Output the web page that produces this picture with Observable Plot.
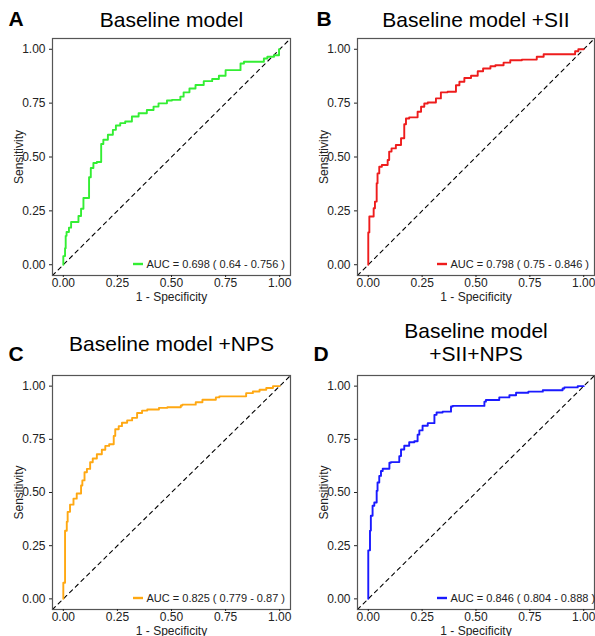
<!DOCTYPE html>
<html><head><meta charset="utf-8">
<script src="https://cdn.jsdelivr.net/npm/d3@7"></script>
<script src="https://cdn.jsdelivr.net/npm/@observablehq/plot@0.6"></script>
<style>
html,body{margin:0;padding:0;background:#fff;overflow:hidden;}
#wrap{position:relative;width:595px;height:636px;background:#fff;}
.panel{position:absolute;}
</style></head><body><div id="wrap"></div>
<script>
// ---- texts ----
const panelLetters = ["A", "B", "C", "D"];
const panelTitles = ["Baseline model", "Baseline model +SII", "Baseline model +NPS", "Baseline model\n+SII+NPS"];
const aucLabels = [
  "AUC = 0.698 ( 0.64 - 0.756 )",
  "AUC = 0.798 ( 0.75 - 0.846 )",
  "AUC = 0.825 ( 0.779 - 0.87 )",
  "AUC = 0.846 ( 0.804 - 0.888 )"
];
const curveColors = ["#33ee33", "#ee1c1c", "#ffa812", "#1a1aff"];
const axisTicks = [0, 0.25, 0.5, 0.75, 1];
const xLabel = "1 - Specificity";
const yLabel = "Sensitivity";
const axisDomain = [-0.05, 1.05];

// ---- ROC curves (1 - specificity, sensitivity) ----
const fprA = [0,0.008,0.011,0.015,0.026,0.036,0.05,0.07,0.082,0.093,0.104,0.119,0.127,0.139,0.155,0.175,0.185,0.206,0.229,0.243,0.263,0.286,0.317,0.348,0.386,0.417,0.44,0.479,0.502,0.541,0.556,0.583,0.611,0.649,0.688,0.719,0.75,0.773,0.819,0.835,0.873,0.927,0.943,0.974,0.997,0.997,1];
const tprA = [0,0.04,0.077,0.134,0.152,0.172,0.198,0.198,0.226,0.26,0.31,0.31,0.406,0.449,0.472,0.477,0.56,0.58,0.603,0.626,0.646,0.657,0.665,0.688,0.703,0.718,0.734,0.749,0.762,0.765,0.78,0.8,0.818,0.834,0.852,0.862,0.877,0.903,0.903,0.934,0.942,0.942,0.957,0.965,0.972,0.995,1];

const fprB = [0,0,0.005,0.008,0.025,0.031,0.039,0.043,0.051,0.063,0.09,0.097,0.108,0.128,0.152,0.167,0.175,0.19,0.229,0.245,0.26,0.276,0.314,0.337,0.368,0.407,0.423,0.446,0.477,0.508,0.533,0.567,0.59,0.628,0.659,0.713,0.782,0.814,0.852,0.96,0.975,1];
const tprB = [0,0.15,0.15,0.224,0.224,0.262,0.293,0.378,0.424,0.455,0.463,0.486,0.525,0.54,0.556,0.587,0.652,0.679,0.684,0.71,0.733,0.748,0.753,0.772,0.8,0.803,0.833,0.849,0.867,0.877,0.898,0.911,0.921,0.926,0.938,0.949,0.952,0.965,0.977,0.977,0.991,1];

const fprC = [0,0,0.008,0.008,0.016,0.02,0.031,0.047,0.062,0.082,0.088,0.098,0.109,0.124,0.136,0.155,0.178,0.194,0.212,0.233,0.24,0.256,0.271,0.295,0.318,0.341,0.364,0.388,0.442,0.481,0.543,0.55,0.612,0.643,0.705,0.721,0.845,0.876,0.907,0.938,0.969,1];
const tprC = [0,0.068,0.076,0.27,0.32,0.363,0.409,0.443,0.471,0.495,0.533,0.557,0.595,0.611,0.642,0.66,0.68,0.701,0.719,0.727,0.766,0.797,0.812,0.828,0.839,0.851,0.874,0.885,0.89,0.898,0.901,0.909,0.913,0.924,0.936,0.947,0.952,0.967,0.975,0.983,0.991,1];

const fprD = [0,0,0.008,0.012,0.02,0.028,0.039,0.043,0.051,0.059,0.067,0.074,0.098,0.105,0.144,0.152,0.167,0.19,0.214,0.229,0.237,0.252,0.276,0.307,0.317,0.345,0.384,0.392,0.454,0.539,0.546,0.608,0.655,0.686,0.743,0.81,0.902,0.91,0.972,1];
const tprD = [0,0.186,0.228,0.321,0.391,0.438,0.453,0.508,0.547,0.578,0.601,0.612,0.612,0.64,0.643,0.671,0.702,0.72,0.736,0.741,0.772,0.792,0.814,0.826,0.865,0.876,0.88,0.904,0.907,0.907,0.927,0.935,0.947,0.957,0.969,0.974,0.981,0.989,0.994,1];

const curvesX = [fprA, fprB, fprC, fprD];
const curvesY = [tprA, tprB, tprC, tprD];

// ---- layout (styling only) ----
const layouts = [
  {left: 0,   top: 0,   width: 297, height: 318, mL: 52, mR: 7, mT: 38, mB: 43, titleDy: -19, letterDx: -44, letterDy: -19, legDx: 81, xLabOff: 25},
  {left: 297, top: 0,   width: 298, height: 318, mL: 60, mR: 1, mT: 38, mB: 43, titleDy: -19, letterDx: -41, letterDy: -19, legDx: 80, xLabOff: 25},
  {left: 0,   top: 318, width: 297, height: 330, mL: 52, mR: 7, mT: 57, mB: 39, titleDy: -32, letterDx: -44, letterDy: -21, legDx: 81, xLabOff: 25},
  {left: 297, top: 318, width: 298, height: 330, mL: 60, mR: 1, mT: 57, mB: 39, titleDy: -33, letterDx: -44, letterDy: -21, legDx: 80, xLabOff: 25}
];

const wrap = document.getElementById("wrap");
const fmt = d3.format(".2f");

panelLetters.forEach((letter, i) => {
  const L = layouts[i];
  const data = curvesX[i].map((x, j) => ({fpr: x, tpr: curvesY[i][j]}));
  const diag = axisDomain.map(d => ({v: d}));
  const color = curveColors[i];
  const legendKey = (index, scales, values, dim) => {
    const g = d3.create("svg:g");
    const x0 = dim.marginLeft + L.legDx;
    const y0 = dim.height - dim.marginBottom - 11;
    g.append("line").attr("x1", x0).attr("x2", x0 + 10).attr("y1", y0).attr("y2", y0)
      .attr("stroke", color).attr("stroke-width", 2.4);
    return g.node();
  };
  const chart = Plot.plot({
    width: L.width, height: L.height,
    marginLeft: L.mL, marginRight: L.mR, marginTop: L.mT, marginBottom: L.mB,
    style: {fontFamily: "'Liberation Sans', Arial, sans-serif", fontSize: "12px", color: "#222", background: "#fff", overflow: "visible"},
    x: {domain: axisDomain},
    y: {domain: axisDomain},
    marks: [
      Plot.line(diag, {x: "v", y: "v", stroke: "#000", strokeWidth: 1.1, strokeDasharray: "4,4"}),
      Plot.line(data, {x: "fpr", y: "tpr", stroke: color, strokeWidth: 1.9, curve: "step-before"}),
      Plot.frame({stroke: "#555", strokeWidth: 1.2}),
      Plot.axisX({ticks: axisTicks, tickFormat: fmt, tickSize: 2, tickPadding: 1, label: xLabel, labelAnchor: "center", labelOffset: L.xLabOff, labelArrow: "none", fontSize: 12}),
      Plot.axisY({ticks: axisTicks, tickFormat: fmt, tickSize: 3, tickPadding: 4, label: yLabel, labelAnchor: "center", labelOffset: 38, labelArrow: "none", fontSize: 12}),
      Plot.text([panelTitles[i]], {frameAnchor: "top", dy: L.titleDy, lineAnchor: "middle", lineHeight: 1.1, fontSize: 21, fill: "#000"}),
      Plot.text([letter], {frameAnchor: "top-left", dx: L.letterDx, dy: L.letterDy, lineAnchor: "middle", textAnchor: "start", fontSize: 21, fontWeight: "bold", fill: "#000"}),
      Plot.text([aucLabels[i]], {frameAnchor: "bottom-left", dx: L.legDx + 13, dy: -11, lineAnchor: "middle", textAnchor: "start", fontSize: 11, fill: "#222"}),
      legendKey
    ]
  });
  chart.classList.add("panel");
  chart.style.left = L.left + "px";
  chart.style.top = L.top + "px";
  wrap.appendChild(chart);
});
</script>
</body></html>
